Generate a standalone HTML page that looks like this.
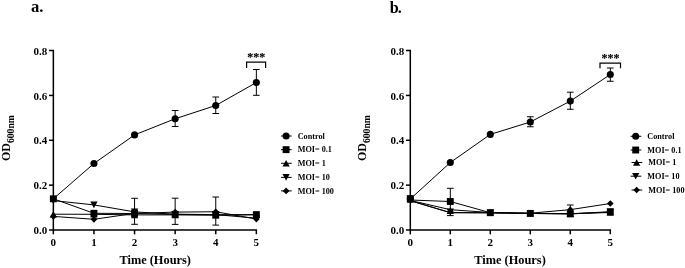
<!DOCTYPE html>
<html><head><meta charset="utf-8"><title>Growth curves</title>
<style>
html,body{margin:0;padding:0;background:#fff;}
svg{display:block;font-family:"Liberation Serif",serif;font-weight:bold;fill:#000;}
</style></head><body>
<svg width="685" height="268" viewBox="0 0 685 268">
<rect width="685" height="268" fill="#fff"/>
<text x="30.9" y="12" font-size="16.7" letter-spacing="0">a.</text>
<g stroke="#000" stroke-width="1.5" fill="none">
<path d="M49.00 50.56H53.35V230.0H256.35V234.35"/>
<path d="M49.00 230.00H53.35"/>
<path d="M49.00 185.14H53.35"/>
<path d="M49.00 140.28H53.35"/>
<path d="M49.00 95.42H53.35"/>
<path d="M53.35 230.0V234.35"/>
<path d="M93.95 230.0V234.35"/>
<path d="M134.55 230.0V234.35"/>
<path d="M175.15 230.0V234.35"/>
<path d="M215.75 230.0V234.35"/>
</g>
<text x="47.35" y="234.20" font-size="11" text-anchor="end">0.0</text>
<text x="47.35" y="189.34" font-size="11" text-anchor="end">0.2</text>
<text x="47.35" y="144.48" font-size="11" text-anchor="end">0.4</text>
<text x="47.35" y="99.62" font-size="11" text-anchor="end">0.6</text>
<text x="47.35" y="54.76" font-size="11" text-anchor="end">0.8</text>
<text x="53.35" y="246.10" font-size="11" text-anchor="middle">0</text>
<text x="93.95" y="246.10" font-size="11" text-anchor="middle">1</text>
<text x="134.55" y="246.10" font-size="11" text-anchor="middle">2</text>
<text x="175.15" y="246.10" font-size="11" text-anchor="middle">3</text>
<text x="215.75" y="246.10" font-size="11" text-anchor="middle">4</text>
<text x="256.35" y="246.10" font-size="11" text-anchor="middle">5</text>
<text x="155.20" y="264" font-size="12.35" text-anchor="middle">Time (Hours)</text>
<text transform="translate(10.3 161.0) rotate(-90)" font-size="12">OD<tspan font-size="9.6" dy="3.7">600nm</tspan></text>
<g stroke="#000" stroke-width="1.0" fill="none">
<path d="M53.35 198.80L93.95 163.50L134.55 134.90L175.15 118.75L215.75 105.50L256.35 82.50"/>
<path d="M175.15 110.50V126.50"/>
<path d="M171.85 110.50H178.45"/>
<path d="M171.85 126.50H178.45"/>
<path d="M215.75 97.00V113.50"/>
<path d="M212.45 97.00H219.05"/>
<path d="M212.45 113.50H219.05"/>
<path d="M256.35 69.50V95.30"/>
<path d="M253.05 69.50H259.65"/>
<path d="M253.05 95.30H259.65"/>
</g>
<circle cx="93.95" cy="163.50" r="3.55"/>
<circle cx="134.55" cy="134.90" r="3.55"/>
<circle cx="175.15" cy="118.75" r="3.55"/>
<circle cx="215.75" cy="105.50" r="3.55"/>
<circle cx="256.35" cy="82.50" r="3.55"/>
<g stroke="#000" stroke-width="1.0" fill="none">
<path d="M53.35 214.20L93.95 214.30L134.55 214.90L175.15 214.90L215.75 215.20L256.35 214.80"/>
</g>
<path d="M53.35 210.90L56.95 217.50H49.75Z"/>
<path d="M93.95 211.00L97.55 217.60H90.35Z"/>
<path d="M134.55 211.60L138.15 218.20H130.95Z"/>
<path d="M175.15 211.60L178.75 218.20H171.55Z"/>
<path d="M215.75 211.90L219.35 218.50H212.15Z"/>
<path d="M256.35 211.50L259.95 218.10H252.75Z"/>
<g stroke="#000" stroke-width="1.0" fill="none">
<path d="M53.35 200.60L93.95 204.90L134.55 211.90L175.15 214.20L215.75 214.60L256.35 218.20"/>
</g>
<path d="M53.35 203.90L56.95 197.30H49.75Z"/>
<path d="M93.95 208.20L97.55 201.60H90.35Z"/>
<path d="M134.55 215.20L138.15 208.60H130.95Z"/>
<path d="M175.15 217.50L178.75 210.90H171.55Z"/>
<path d="M215.75 217.90L219.35 211.30H212.15Z"/>
<path d="M256.35 221.50L259.95 214.90H252.75Z"/>
<g stroke="#000" stroke-width="1.0" fill="none">
<path d="M53.35 216.40L93.95 219.30L134.55 213.40L175.15 212.10L215.75 211.75L256.35 219.05"/>
</g>
<path d="M53.35 213.05L56.70 216.40L53.35 219.75L50.00 216.40Z"/>
<path d="M93.95 215.95L97.30 219.30L93.95 222.65L90.60 219.30Z"/>
<path d="M134.55 210.05L137.90 213.40L134.55 216.75L131.20 213.40Z"/>
<path d="M175.15 208.75L178.50 212.10L175.15 215.45L171.80 212.10Z"/>
<path d="M215.75 208.40L219.10 211.75L215.75 215.10L212.40 211.75Z"/>
<path d="M256.35 215.70L259.70 219.05L256.35 222.40L253.00 219.05Z"/>
<g stroke="#000" stroke-width="1.0" fill="none">
<path d="M53.35 198.80L93.95 213.30L134.55 213.50L175.15 214.40L215.75 214.80L256.35 214.60"/>
<path d="M134.55 198.30V224.30"/>
<path d="M131.25 198.30H137.85"/>
<path d="M131.25 224.30H137.85"/>
<path d="M175.15 198.20V224.40"/>
<path d="M171.85 198.20H178.45"/>
<path d="M171.85 224.40H178.45"/>
<path d="M215.75 197.00V225.10"/>
<path d="M212.45 197.00H219.05"/>
<path d="M212.45 225.10H219.05"/>
</g>
<rect x="49.90" y="195.35" width="6.9" height="6.9"/>
<rect x="90.50" y="209.85" width="6.9" height="6.9"/>
<rect x="131.10" y="210.05" width="6.9" height="6.9"/>
<rect x="171.70" y="210.95" width="6.9" height="6.9"/>
<rect x="212.30" y="211.35" width="6.9" height="6.9"/>
<rect x="252.90" y="211.15" width="6.9" height="6.9"/>
<path d="M246.6 68.1V62.1H265.6V68.1" stroke="#000" stroke-width="1.2" fill="none"/>
<text x="256.30" y="61.10" font-size="12" text-anchor="middle" stroke="#000" stroke-width="0.12">***</text>
<path d="M281.0 136.00H291.70000000000005" stroke="#000" stroke-width="1.0"/>
<circle cx="286.10" cy="136.00" r="3.55"/>
<text x="297.70000000000005" y="138.50" font-size="8.2">Control</text>
<path d="M281.0 149.65H291.70000000000005" stroke="#000" stroke-width="1.0"/>
<rect x="282.65" y="146.20" width="6.9" height="6.9"/>
<text x="297.70000000000005" y="152.15" font-size="8.2">MOI= 0.1</text>
<path d="M281.0 163.30H291.70000000000005" stroke="#000" stroke-width="1.0"/>
<path d="M286.10 160.00L289.70 166.60H282.50Z"/>
<text x="297.70000000000005" y="166.20" font-size="8.2">MOI= 1</text>
<path d="M281.0 177.40H291.70000000000005" stroke="#000" stroke-width="1.0"/>
<path d="M286.10 180.70L289.70 174.10H282.50Z"/>
<text x="297.70000000000005" y="179.80" font-size="8.2">MOI= 10</text>
<path d="M281.0 190.90H291.70000000000005" stroke="#000" stroke-width="1.0"/>
<path d="M286.10 187.55L289.45 190.90L286.10 194.25L282.75 190.90Z"/>
<text x="297.70000000000005" y="193.60" font-size="8.2">MOI= 100</text>
<text x="389.8" y="12.6" font-size="16.2" letter-spacing="-1.0">b.</text>
<g stroke="#000" stroke-width="1.5" fill="none">
<path d="M405.95 50.56H410.3V230.0H610.30V234.35"/>
<path d="M405.95 230.00H410.3"/>
<path d="M405.95 185.14H410.3"/>
<path d="M405.95 140.28H410.3"/>
<path d="M405.95 95.42H410.3"/>
<path d="M410.30 230.0V234.35"/>
<path d="M450.30 230.0V234.35"/>
<path d="M490.30 230.0V234.35"/>
<path d="M530.30 230.0V234.35"/>
<path d="M570.30 230.0V234.35"/>
</g>
<text x="404.30" y="234.20" font-size="11" text-anchor="end">0.0</text>
<text x="404.30" y="189.34" font-size="11" text-anchor="end">0.2</text>
<text x="404.30" y="144.48" font-size="11" text-anchor="end">0.4</text>
<text x="404.30" y="99.62" font-size="11" text-anchor="end">0.6</text>
<text x="404.30" y="54.76" font-size="11" text-anchor="end">0.8</text>
<text x="410.30" y="246.10" font-size="11" text-anchor="middle">0</text>
<text x="450.30" y="246.10" font-size="11" text-anchor="middle">1</text>
<text x="490.30" y="246.10" font-size="11" text-anchor="middle">2</text>
<text x="530.30" y="246.10" font-size="11" text-anchor="middle">3</text>
<text x="570.30" y="246.10" font-size="11" text-anchor="middle">4</text>
<text x="610.30" y="246.10" font-size="11" text-anchor="middle">5</text>
<text x="510.05" y="264" font-size="12.35" text-anchor="middle">Time (Hours)</text>
<text transform="translate(366.4 161.0) rotate(-90)" font-size="12">OD<tspan font-size="9.6" dy="3.7">600nm</tspan></text>
<g stroke="#000" stroke-width="1.0" fill="none">
<path d="M410.30 199.00L450.30 162.50L490.30 134.40L530.30 122.00L570.30 101.10L610.30 74.50"/>
<path d="M530.30 116.75V126.75"/>
<path d="M527.00 116.75H533.60"/>
<path d="M527.00 126.75H533.60"/>
<path d="M570.30 92.20V109.25"/>
<path d="M567.00 92.20H573.60"/>
<path d="M567.00 109.25H573.60"/>
<path d="M610.30 68.00V81.25"/>
<path d="M607.00 68.00H613.60"/>
<path d="M607.00 81.25H613.60"/>
</g>
<circle cx="410.30" cy="199.00" r="3.55"/>
<circle cx="450.30" cy="162.50" r="3.55"/>
<circle cx="490.30" cy="134.40" r="3.55"/>
<circle cx="530.30" cy="122.00" r="3.55"/>
<circle cx="570.30" cy="101.10" r="3.55"/>
<circle cx="610.30" cy="74.50" r="3.55"/>
<g stroke="#000" stroke-width="1.0" fill="none">
<path d="M410.30 200.40L450.30 209.70L490.30 212.50L530.30 213.30L570.30 213.60L610.30 212.50"/>
</g>
<path d="M410.30 196.20L413.90 202.80H406.70Z"/>
<path d="M450.30 207.40L453.90 214.00H446.70Z"/>
<path d="M490.30 209.20L493.90 215.80H486.70Z"/>
<path d="M530.30 210.00L533.90 216.60H526.70Z"/>
<path d="M570.30 210.30L573.90 216.90H566.70Z"/>
<path d="M610.30 209.20L613.90 215.80H606.70Z"/>
<g stroke="#000" stroke-width="1.0" fill="none">
<path d="M410.30 200.70L450.30 212.70L490.30 212.90L530.30 213.50L570.30 213.90L610.30 212.10"/>
</g>
<path d="M410.30 203.60L413.90 197.00H406.70Z"/>
<path d="M450.30 215.20L453.90 208.60H446.70Z"/>
<path d="M490.30 216.20L493.90 209.60H486.70Z"/>
<path d="M530.30 216.80L533.90 210.20H526.70Z"/>
<path d="M570.30 217.20L573.90 210.60H566.70Z"/>
<path d="M610.30 215.40L613.90 208.80H606.70Z"/>
<g stroke="#000" stroke-width="1.0" fill="none">
<path d="M410.30 200.70L450.30 212.60L490.30 212.70L530.30 213.20L570.30 209.65L610.30 203.50"/>
<path d="M570.30 205.00V209.65"/>
<path d="M567.00 205.00H573.60"/>
</g>
<path d="M410.30 196.85L413.65 200.20L410.30 203.55L406.95 200.20Z"/>
<path d="M450.30 208.05L453.65 211.40L450.30 214.75L446.95 211.40Z"/>
<path d="M490.30 209.35L493.65 212.70L490.30 216.05L486.95 212.70Z"/>
<path d="M530.30 209.85L533.65 213.20L530.30 216.55L526.95 213.20Z"/>
<path d="M570.30 206.30L573.65 209.65L570.30 213.00L566.95 209.65Z"/>
<path d="M610.30 200.15L613.65 203.50L610.30 206.85L606.95 203.50Z"/>
<g stroke="#000" stroke-width="1.0" fill="none">
<path d="M410.30 200.00L450.30 201.50L490.30 212.70L530.30 213.40L570.30 213.90L610.30 211.70"/>
<path d="M450.30 188.30V215.60"/>
<path d="M447.00 188.30H453.60"/>
<path d="M447.00 215.60H453.60"/>
</g>
<rect x="406.85" y="195.15" width="6.9" height="6.9"/>
<rect x="446.85" y="198.05" width="6.9" height="6.9"/>
<rect x="486.85" y="209.25" width="6.9" height="6.9"/>
<rect x="526.85" y="209.95" width="6.9" height="6.9"/>
<rect x="566.85" y="210.45" width="6.9" height="6.9"/>
<rect x="606.85" y="208.25" width="6.9" height="6.9"/>
<path d="M600 68.2V63.2H620.5V68.2" stroke="#000" stroke-width="1.2" fill="none"/>
<text x="610.45" y="62.20" font-size="12" text-anchor="middle" stroke="#000" stroke-width="0.12">***</text>
<path d="M630.6 136.30H641.3000000000001" stroke="#000" stroke-width="1.0"/>
<circle cx="635.70" cy="136.30" r="3.55"/>
<text x="647.3000000000001" y="138.80" font-size="8.2">Control</text>
<path d="M630.6 150.00H641.3000000000001" stroke="#000" stroke-width="1.0"/>
<rect x="632.25" y="146.55" width="6.9" height="6.9"/>
<text x="647.3000000000001" y="152.50" font-size="8.2">MOI= 0.1</text>
<path d="M631.5500000000001 162.50H642.2500000000001" stroke="#000" stroke-width="1.0"/>
<path d="M636.65 159.20L640.25 165.80H633.05Z"/>
<text x="648.2500000000001" y="165.00" font-size="8.2">MOI= 1</text>
<path d="M630.6 176.20H641.3000000000001" stroke="#000" stroke-width="1.0"/>
<path d="M635.70 179.50L639.30 172.90H632.10Z"/>
<text x="647.3000000000001" y="178.70" font-size="8.2">MOI= 10</text>
<path d="M631.5500000000001 190.00H642.2500000000001" stroke="#000" stroke-width="1.0"/>
<path d="M636.65 186.65L640.00 190.00L636.65 193.35L633.30 190.00Z"/>
<text x="648.2500000000001" y="192.90" font-size="8.2">MOI= 100</text>
</svg>
</body></html>
